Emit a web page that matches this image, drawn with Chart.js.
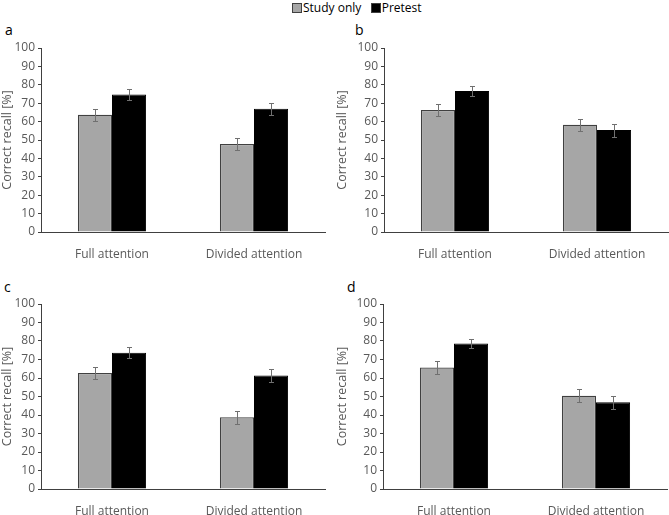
<!DOCTYPE html>
<html>
<head>
<meta charset="utf-8">
<script src="https://cdn.jsdelivr.net/npm/chart.js@4"></script>
<style>
  body { margin: 0; background: #fff; width: 669px; height: 515px; position: relative; overflow: hidden; font-family: "Open Sans", sans-serif; }
  canvas { position: absolute; }
  .lbl { position: absolute; font-size: 14px; color: #000; }
  #legend { position: absolute; top: -1px; left: 292px; font-size: 12px; color: #000; white-space: nowrap; }
  #legend span.box { display: inline-block; width: 8px; height: 8px; border: 1px solid #404040; vertical-align: -1px; margin-right: 1px; }
</style>
</head>
<body>
<div id="legend">
  <span class="box" style="background:#a6a6a6"></span>Study only&nbsp;&nbsp;
  <span class="box" style="background:#000"></span>Pretest
</div>
<div class="lbl" style="left:5px;top:20px">a</div>
<div class="lbl" style="left:355px;top:20px">b</div>
<div class="lbl" style="left:4px;top:277px">c</div>
<div class="lbl" style="left:347px;top:277px">d</div>
<canvas id="pa"></canvas>
<canvas id="pb"></canvas>
<canvas id="pc"></canvas>
<canvas id="pd"></canvas>
<script>
const categories = ["Full attention", "Divided attention"];
const yTicks = [0, 10, 20, 30, 40, 50, 60, 70, 80, 90, 100];

const studyA = [63.7, 47.8];
const pretestA = [74.7, 67.0];
const studyErrA = [3.3, 3.5];
const pretestErrA = [3.0, 3.2];

const studyB = [66.3, 58.3];
const pretestB = [76.6, 55.4];
const studyErrB = [3.1, 3.2];
const pretestErrB = [2.7, 3.5];

const studyC = [62.7, 38.8];
const pretestC = [73.7, 61.3];
const studyErrC = [3.2, 3.4];
const pretestErrC = [3.1, 3.5];

const studyD = [65.7, 50.4];
const pretestD = [78.7, 46.9];
const studyErrD = [3.5, 3.6];
const pretestErrD = [2.3, 3.6];

const textGray = '#595959';
const axisGray = '#404040';

// draws the error bars from the y scale
const errorBars = {
  id: 'errorBars',
  afterDatasetsDraw(chart) {
    const ctx = chart.ctx, y = chart.scales.y;
    ctx.save();
    ctx.strokeStyle = '#707070';
    ctx.lineWidth = 1;
    chart.data.datasets.forEach((ds, i) => {
      const meta = chart.getDatasetMeta(i);
      meta.data.forEach((bar, j) => {
        const v = ds.data[j], e = ds.err[j];
        const top = Math.round(y.getPixelForValue(v + e)) + 0.5;
        const bot = Math.round(y.getPixelForValue(v - e)) + 0.5;
        const x = Math.round(bar.x) + 0.5;
        ctx.beginPath();
        ctx.moveTo(x, top); ctx.lineTo(x, bot);
        ctx.moveTo(x - 2.5, top); ctx.lineTo(x + 2.5, top);
        ctx.moveTo(x - 2.5, bot); ctx.lineTo(x + 2.5, bot);
        ctx.stroke();
      });
    });
    ctx.restore();
  }
};

function makePanel(id, box, plot, study, pretest, studyErr, pretestErr) {
  const cv = document.getElementById(id);
  cv.style.left = box.left + 'px';
  cv.style.top = box.top + 'px';
  cv.style.width = box.width + 'px';
  cv.style.height = box.height + 'px';
  cv.width = box.width; cv.height = box.height;
  return new Chart(cv, {
    type: 'bar',
    data: {
      labels: categories,
      datasets: [
        { label: 'Study only', data: study, err: studyErr, backgroundColor: '#a6a6a6',
          borderColor: axisGray, borderWidth: 1.2, borderSkipped: 'bottom' },
        { label: 'Pretest', data: pretest, err: pretestErr, backgroundColor: '#000',
          borderColor: '#000', borderWidth: 1, borderSkipped: 'bottom' }
      ]
    },
    options: {
      responsive: false,
      animation: false,
      devicePixelRatio: 1,
      layout: { padding: { top: plot.top - box.top, right: box.left + box.width - plot.right, left: 0, bottom: 0 } },
      datasets: { bar: { categoryPercentage: 0.48, barPercentage: 1 } },
      plugins: { legend: { display: false }, tooltip: { enabled: false } },
      scales: {
        x: {
          grid: { display: false },
          border: { display: true, color: axisGray, width: 1 },
          ticks: { color: textGray, font: { family: 'Open Sans', size: 12 }, padding: 7 },
          afterFit(s) { s.height = box.top + box.height - plot.bottom; }
        },
        y: {
          min: 0, max: 100,
          afterBuildTicks(s) { s.ticks = yTicks.map(v => ({ value: v })); },
          grid: { display: true, drawOnChartArea: false, drawTicks: true, tickLength: 3, color: axisGray },
          border: { display: true, color: axisGray, width: 1 },
          ticks: { color: textGray, font: { family: 'Open Sans', size: 12 }, padding: 3 },
          title: { display: true, text: 'Correct recall [%]', color: textGray,
                   font: { family: 'Open Sans', size: 12.5 }, padding: { top: 0, bottom: 2 } },
          afterFit(s) { s.width = plot.left - box.left; }
        }
      }
    },
    plugins: [errorBars]
  });
}

makePanel('pa', { left: 0, top: 36, width: 334, height: 224 }, { left: 41, right: 325, top: 48, bottom: 232 },
  studyA, pretestA, studyErrA, pretestErrA);
makePanel('pb', { left: 335, top: 36, width: 334, height: 224 }, { left: 384, right: 668, top: 48, bottom: 232 },
  studyB, pretestB, studyErrB, pretestErrB);
makePanel('pc', { left: 0, top: 292, width: 334, height: 223 }, { left: 41, right: 325, top: 304, bottom: 489 },
  studyC, pretestC, studyErrC, pretestErrC);
makePanel('pd', { left: 335, top: 292, width: 334, height: 223 }, { left: 383, right: 667, top: 304, bottom: 489 },
  studyD, pretestD, studyErrD, pretestErrD);
</script>
</body>
</html>
